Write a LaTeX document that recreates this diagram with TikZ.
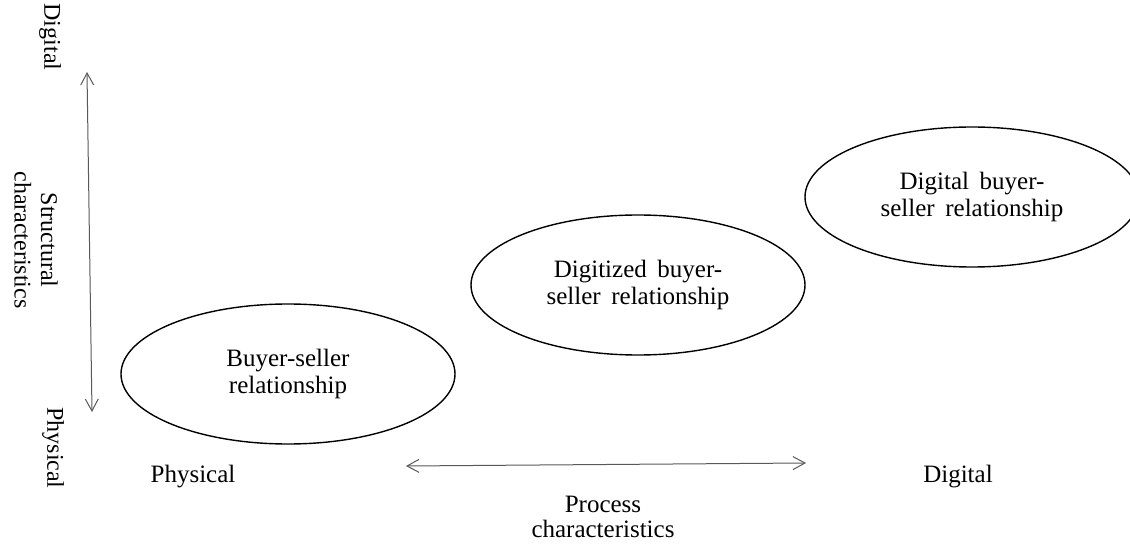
\documentclass[tikz,border=0pt]{standalone}
\usepackage{fontspec}
\setmainfont{Liberation Serif}
\newfontfamily\relfont[WordSpace=1.7]{Liberation Serif}
\usetikzlibrary{arrows.meta,shapes.geometric}

\begin{document}
\begin{tikzpicture}[x=1pt,y=-1pt,
  relation/.style={draw=black, line width=1.4pt, ellipse, inner sep=0pt,
    minimum width=334pt, minimum height=140pt, align=center,
    font=\relfont\fontsize{25}{27}\selectfont},
  label/.style={inner sep=0pt, align=center, font=\fontsize{25}{25.5}\selectfont},
  vlabel/.style={label, rotate=-90, font=\fontsize{24}{26.5}\selectfont},
  axis/.style={draw=black!65, line width=1pt,
    {Straight Barb[length=12pt,width=13pt]}-{Straight Barb[length=12pt,width=13pt]}}]

  \path[use as bounding box] (0,0) rectangle (1130,545);
  \clip (0,0) rectangle (1130,545);

  % the three relationship stages
  \node[relation] (phys) at (288,374) {Buyer-seller\\relationship};
  \node[relation] (dgz)  at (638,285) {Digitized buyer-\\seller relationship};
  \node[relation] (dig)  at (972,197) {Digital buyer-\\seller relationship};

  % vertical axis: structural characteristics
  \coordinate (vtop) at (87,72);
  \coordinate (vbot) at (92,412);
  \draw[axis] (vtop) -- (vbot);
  \node[vlabel] (vdig)  at (50,37)  {Digital};
  \node[vlabel] (vstr)  at (36,240) {Structural\\characteristics};
  \node[vlabel] (vphys) at (53,448) {Physical};

  % horizontal axis: process characteristics
  \coordinate (hleft)  at (406,466);
  \coordinate (hright) at (806,463);
  \draw[axis] (hleft) -- (hright);
  \node[label] (hphys) at (193,477) {Physical};
  \node[label] (hdig)  at (958,477) {Digital};
  \node[label] (hproc) at (603,517) {Process\\characteristics};
\end{tikzpicture}
\end{document}
